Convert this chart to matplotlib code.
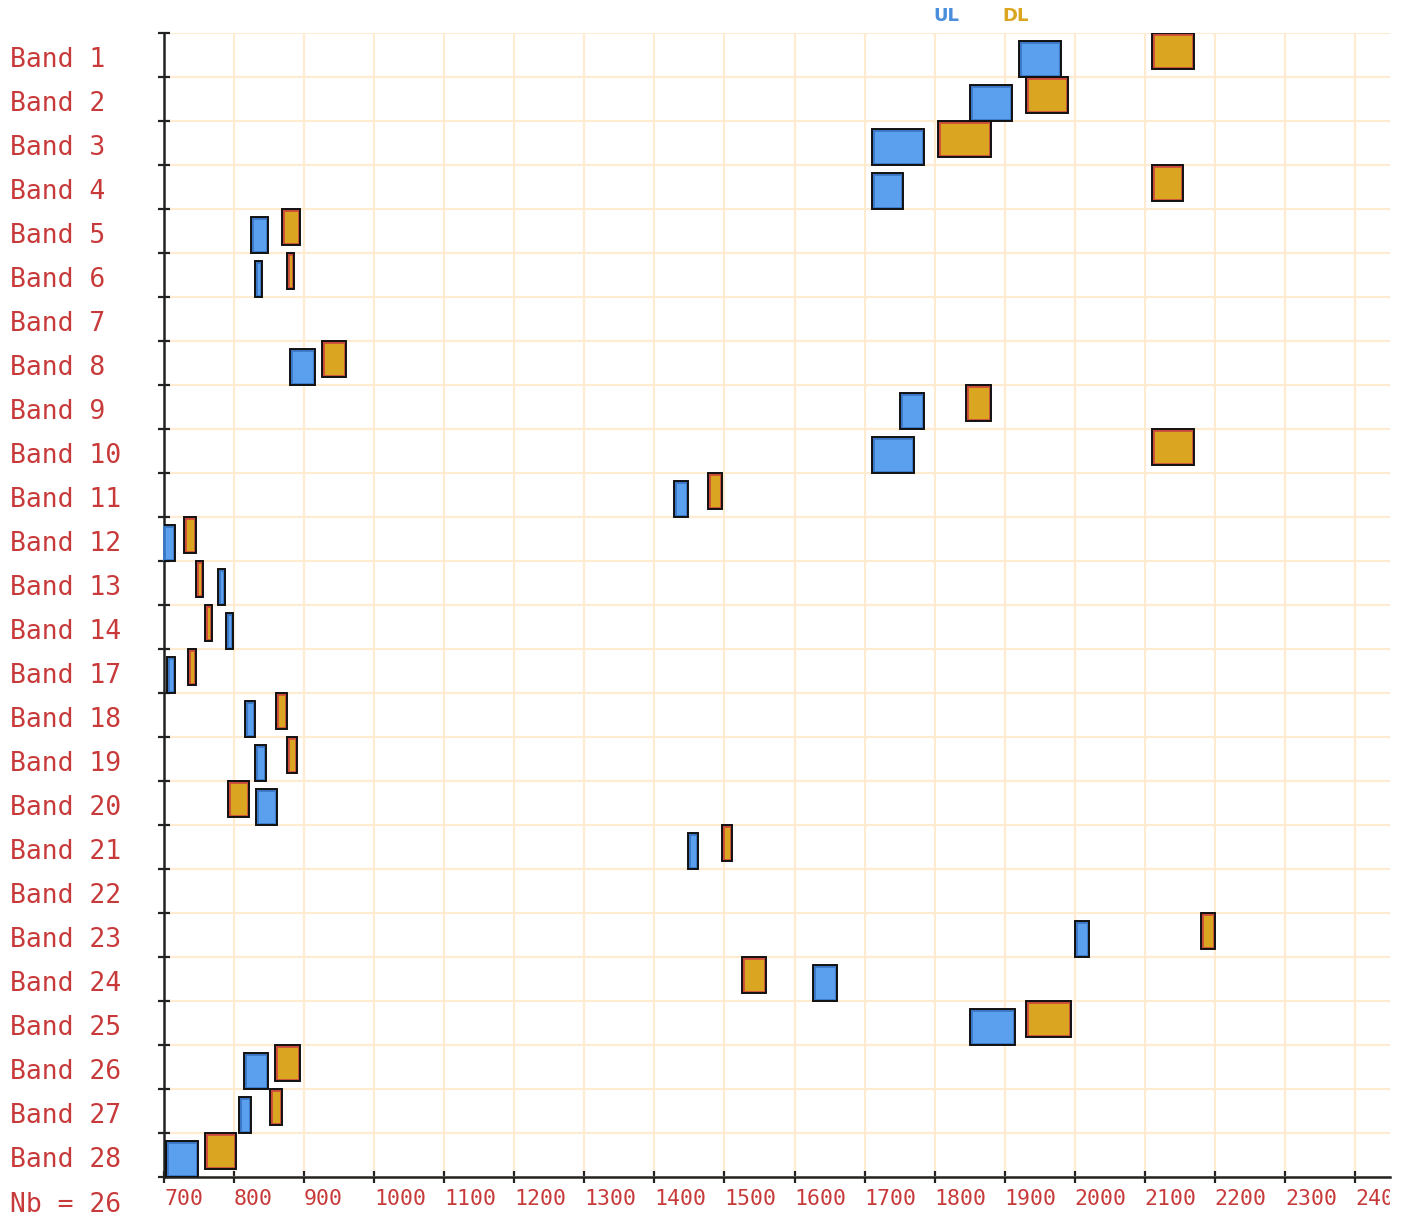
import matplotlib
matplotlib.use('Agg')
import matplotlib.pyplot as plt
from matplotlib.transforms import Bbox, TransformedBbox

# LTE bands (MHz): uplink / downlink ranges
bands = ['1', '2', '3', '4', '5', '6', '7', '8', '9', '10', '11', '12', '13',
         '14', '17', '18', '19', '20', '21', '22', '23', '24', '25', '26',
         '27', '28']
ul_start = [1920, 1850, 1710, 1710, 824, 830, 2500, 880, 1749.9, 1710, 1427.9,
            699, 777, 788, 704, 815, 830, 832, 1447.9, 3410, 2000, 1626.5,
            1850, 814, 807, 703]
ul_stop = [1980, 1910, 1785, 1755, 849, 840, 2570, 915, 1784.9, 1770, 1447.9,
           716, 787, 798, 716, 830, 845, 862, 1462.9, 3490, 2020, 1660.5,
           1915, 849, 824, 748]
dl_start = [2110, 1930, 1805, 2110, 869, 875, 2620, 925, 1844.9, 2110, 1475.9,
            729, 746, 758, 734, 860, 875, 791, 1495.9, 3510, 2180, 1525,
            1930, 859, 852, 758]
dl_stop = [2170, 1990, 1880, 2155, 894, 885, 2690, 960, 1879.9, 2170, 1495.9,
           746, 756, 768, 746, 875, 890, 821, 1510.9, 3590, 2200, 1559,
           1995, 894, 869, 803]

x_ticks = list(range(700, 2500, 100))
XMIN, XMAX = 700, 2450

RED = '#c83a3a'
UL_FACE, UL_EDGE = '#5aa0ee', '#3a76c4'
DL_FACE, DL_EDGE = '#daa520', '#cc4a3c'
GRID = '#ffebd0'
MONO = 'DejaVu Sans Mono'

fig = plt.figure(figsize=(14.06, 12.25), dpi=100)
ax = fig.add_axes([164 / 1406, 1 - 1177 / 1225, (1390 - 164) / 1406, 1144 / 1225])

n = len(bands)
box_h = 36 / 44
ul_off = 8 / 44


def draw_boxes(starts, stops, y0, face, inner):
    widths = [b - a for a, b in zip(starts, stops)]
    ys = [i + y0 for i in range(n)]
    bars = ax.barh(ys, widths, left=starts, height=box_h, align='edge',
                   color=face, edgecolor=inner, linewidth=3.4, zorder=3)
    for p, a in zip(bars, starts):
        if a < XMAX:
            # keep only the inner half of the coloured border
            p.set_clip_path(p)
    ax.barh(ys, widths, left=starts, height=box_h, align='edge',
            fill=False, edgecolor='#111111', linewidth=1.4, zorder=4)


draw_boxes(ul_start, ul_stop, ul_off, UL_FACE, UL_EDGE)
draw_boxes(dl_start, dl_stop, 0, DL_FACE, DL_EDGE)

ax.set_xlim(XMIN, XMAX)
ax.set_ylim(n, 0)
ax.set_xticks(x_ticks)
ax.set_xticklabels([str(v) for v in x_ticks], fontsize=15.5, color=RED,
                   family=MONO, ha='left')
ax.set_yticks(range(n + 1))
ax.set_yticklabels([])
ax.tick_params(axis='both', direction='inout', length=9, width=1.6,
               color='#222222')
ax.tick_params(axis='x', pad=4)
for lbl in ax.get_xticklabels():
    lbl.set_clip_box(TransformedBbox(Bbox([[0, 0], [1390 / 1406, 1]]),
                                     fig.transFigure))
    lbl.set_clip_on(True)

ax.grid(True, color=GRID, linewidth=1.5)
ax.set_axisbelow(True)
for s in ['top', 'right']:
    ax.spines[s].set_visible(False)
for s in ['left', 'bottom']:
    ax.spines[s].set_linewidth(1.8)
    ax.spines[s].set_color('#222222')

# band labels on the left
for i, b in enumerate(bands):
    fig.text(10 / 1406, 1 - (33 + 44 * i + 27) / 1225, f"Band {b}",
             fontsize=19, family=MONO, color=RED, va='center', ha='left')
fig.text(10 / 1406, 1 - 1205 / 1225, f"Nb = {n}", fontsize=19, family=MONO,
         color=RED, va='center', ha='left')

# legend
fig.text(946 / 1406, 1 - 16 / 1225, "UL", fontsize=13, fontweight='bold',
         color='#4a8fdc', ha='center', va='center')
fig.text(1016 / 1406, 1 - 16 / 1225, "DL", fontsize=13, fontweight='bold',
         color=DL_FACE, ha='center', va='center')

fig.savefig('out.png', dpi=100)
